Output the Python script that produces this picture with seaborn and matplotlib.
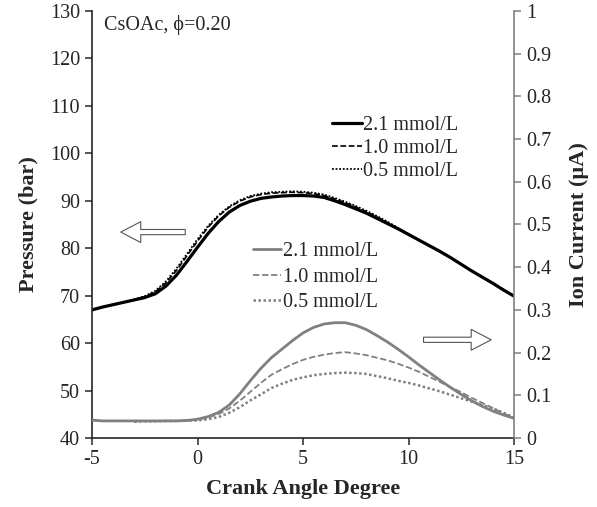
import numpy as np
import pandas as pd
import matplotlib
matplotlib.use("Agg")
import matplotlib.pyplot as plt
import seaborn as sns
from matplotlib.lines import Line2D


crank = [-5, -4.5, -4, -3.5, -3, -2.5, -2, -1.5, -1, -0.5,
         0, 0.5, 1, 1.5, 2, 2.5, 3, 3.5, 4, 4.5,
         5, 5.5, 6, 6.5, 7, 7.5, 8, 8.5, 9, 9.5,
         10, 10.5, 11, 11.5, 12, 12.5, 13, 13.5, 14, 14.5, 15]

# pressure (bar)
p_21 = [67.0, 67.6, 68.1, 68.6, 69.1, 69.6, 70.4, 72.0, 74.3, 77.2,
        80.2, 83.1, 85.6, 87.6, 89.0, 89.9, 90.5, 90.8, 91.0, 91.1,
        91.1, 91.0, 90.7, 90.0, 89.2, 88.3, 87.4, 86.3, 85.2, 84.1,
        82.9, 81.7, 80.5, 79.3, 78.0, 76.6, 75.2, 73.9, 72.6, 71.2, 69.9]
p_10 = [67.0, 67.6, 68.1, 68.6, 69.2, 69.8, 70.8, 72.7, 75.3, 78.4,
        81.5, 84.4, 86.8, 88.6, 89.9, 90.8, 91.3, 91.6, 91.7, 91.8,
        91.7, 91.5, 91.1, 90.4, 89.6, 88.7, 87.7, 86.6, 85.4, 84.2,
        83.0, 81.7, 80.5, 79.3, 78.0, 76.6, 75.2, 73.9, 72.6, 71.2, 69.9]
p_05 = [67.0, 67.6, 68.1, 68.6, 69.2, 69.9, 71.0, 73.0, 75.7, 78.8,
        81.9, 84.7, 87.0, 88.8, 90.1, 91.0, 91.5, 91.8, 91.9, 92.0,
        91.9, 91.7, 91.3, 90.6, 89.8, 88.9, 87.9, 86.8, 85.6, 84.3,
        83.0, 81.7, 80.5, 79.3, 78.0, 76.6, 75.2, 73.9, 72.6, 71.2, 69.9]

# ion current (uA)
i_21 = [0.042, 0.040, 0.040, 0.040, 0.040, 0.040, 0.040, 0.040, 0.040, 0.041,
        0.044, 0.050, 0.060, 0.077, 0.103, 0.134, 0.163, 0.188, 0.208, 0.228,
        0.246, 0.259, 0.267, 0.270, 0.270, 0.264, 0.254, 0.240, 0.225, 0.208,
        0.190, 0.171, 0.153, 0.135, 0.118, 0.102, 0.087, 0.074, 0.063, 0.054, 0.046]
i_10 = [0.041, 0.040, 0.040, 0.040, 0.040, 0.040, 0.040, 0.040, 0.040, 0.041,
        0.043, 0.048, 0.056, 0.069, 0.087, 0.108, 0.129, 0.148, 0.161, 0.173,
        0.183, 0.190, 0.195, 0.199, 0.201, 0.198, 0.194, 0.188, 0.182, 0.174,
        0.165, 0.155, 0.143, 0.131, 0.119, 0.107, 0.094, 0.082, 0.070, 0.058, 0.047]
crank_05 = crank[4:]
i_05 = [0.038, 0.039, 0.039, 0.040, 0.040, 0.041,
        0.041, 0.044, 0.049, 0.059, 0.072, 0.088, 0.102, 0.117, 0.127, 0.136,
        0.142, 0.147, 0.150, 0.152, 0.153, 0.152, 0.150, 0.145, 0.140, 0.134,
        0.129, 0.123, 0.116, 0.109, 0.101, 0.093, 0.085, 0.077, 0.069, 0.059, 0.048]

labels = ["2.1 mmol/L", "1.0 mmol/L", "0.5 mmol/L"]

sns.set_style("ticks")
plt.rcParams['font.family'] = ['Liberation Serif', 'DejaVu Serif']
plt.rcParams['axes.unicode_minus'] = False

gray = "#808080"

fig = plt.figure(figsize=(5.97, 5.07), dpi=100)
ax = fig.add_axes([0.1541, 0.1361, 0.7069, 0.8422])
ax2 = ax.twinx()

# ion current (right axis, gray)
sns.lineplot(x=crank, y=i_21, ax=ax2, color=gray, lw=2.0)
sns.lineplot(x=crank, y=i_10, ax=ax2, color=gray, lw=1.3, linestyle=(0, (3.5, 1.5)))
sns.lineplot(x=crank_05, y=i_05, ax=ax2, color=gray, lw=1.8, linestyle=(0, (1, 1)))

# pressure (left axis, black)
sns.lineplot(x=crank, y=p_21, ax=ax, color="black", lw=2.3)
sns.lineplot(x=crank, y=p_10, ax=ax, color="black", lw=1.2, linestyle=(0, (3.5, 1.5)))
sns.lineplot(x=crank, y=p_05, ax=ax, color="black", lw=1.3, linestyle=(0, (1, 1)))

ax.set_xlim(-5, 15)
ax.set_ylim(40, 130)
ax.set_xticks([-5, 0, 5, 10, 15])
ax.set_yticks(np.arange(40, 131, 10))
ax2.set_ylim(0, 1)
ax2.set_yticks([0, 0.1, 0.2, 0.3, 0.4, 0.5, 0.6, 0.7, 0.8, 0.9, 1])
ax2.set_yticklabels(["0", "0.1", "0.2", "0.3", "0.4", "0.5", "0.6", "0.7", "0.8", "0.9", "1"])

for a in (ax, ax2):
    a.spines["top"].set_visible(False)
ax.spines["right"].set_visible(False)
ax2.spines["left"].set_visible(False)
ax2.spines["bottom"].set_visible(False)
ax2.spines["right"].set_color(gray)
ax2.spines["right"].set_linewidth(1.2)
ax.spines["left"].set_linewidth(1.2)
ax.spines["bottom"].set_linewidth(1.2)

ax.tick_params(axis="both", labelsize=14.5, length=5, width=1.1, direction="out")
ax2.tick_params(axis="y", labelsize=14.5, length=5, width=1.1, direction="out", color=gray)

ax.set_xlabel("Crank Angle Degree", fontsize=16, fontweight="bold", labelpad=7)
ax.set_ylabel("Pressure (bar)", fontsize=16, fontweight="bold", labelpad=8)
ax2.set_ylabel("Ion Current (\u00b5A)", fontsize=16, fontweight="bold", labelpad=13)

ax.text(0.028, 0.967, "CsOAc, \u03d5=0.20", transform=ax.transAxes,
        fontsize=14.5, va="center", ha="left")

# legends
h_p = [Line2D([], [], color="black", lw=2.3),
       Line2D([], [], color="black", lw=1.2, linestyle=(0, (3.5, 1.5))),
       Line2D([], [], color="black", lw=1.3, linestyle=(0, (1, 1)))]
h_i = [Line2D([], [], color=gray, lw=2.0),
       Line2D([], [], color=gray, lw=1.3, linestyle=(0, (3.5, 1.5))),
       Line2D([], [], color=gray, lw=1.8, linestyle=(0, (1, 1)))]

leg1 = ax2.legend(h_p, labels, loc="upper left", bbox_to_anchor=(0.569, 0.754),
                  frameon=False, fontsize=14.5, borderpad=0, borderaxespad=0,
                  handlelength=1.5, handletextpad=0.05, labelspacing=0.2)
ax2.add_artist(leg1)
ax2.legend(h_i, labels, loc="upper left", bbox_to_anchor=(0.3815, 0.459),
           frameon=False, fontsize=14.5, borderpad=0, borderaxespad=0,
           handlelength=1.4, handletextpad=0.1, labelspacing=0.32)

# direction arrows
arrow_style = "simple,head_length=0.96,head_width=1.0,tail_width=0.25"
ax.annotate("", xy=(-3.77, 83.4), xytext=(-0.45, 83.4),
            arrowprops=dict(arrowstyle=arrow_style, mutation_scale=15,
                            fc="white", ec="#555555", lw=0.8))
ax.annotate("", xy=(14.05, 60.7), xytext=(10.58, 60.7),
            arrowprops=dict(arrowstyle=arrow_style, mutation_scale=15,
                            fc="white", ec="#555555", lw=0.8))

fig.savefig("out.png", dpi=100)
